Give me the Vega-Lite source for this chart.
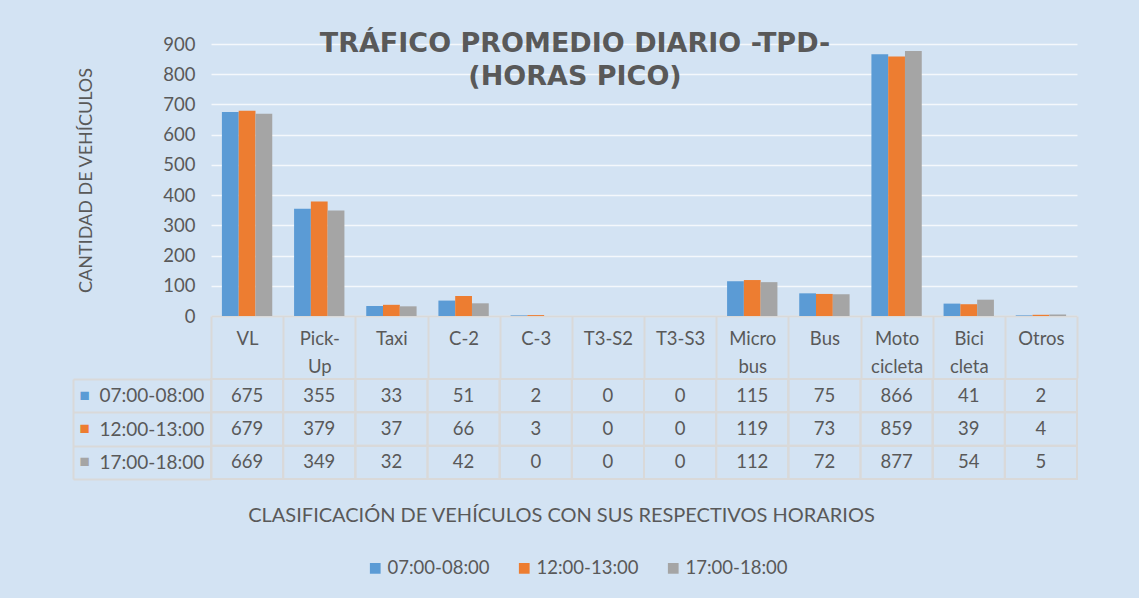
{
  "$schema": "https://vega.github.io/schema/vega-lite/v6.json",
  "background": "#d3e3f3",
  "padding": {"left": 71, "top": 30, "right": 60, "bottom": 20},
  "config": {
    "font": "Lato",
    "view": {"stroke": null},
    "axis": {"labelColor": "#595959", "titleColor": "#595959", "labelFont": "Lato", "titleFont": "Lato", "titleFontWeight": "normal"},
    "legend": {"labelFont": "Lato", "labelColor": "#595959"}
  },
  "title": {
    "text": ["TRÁFICO PROMEDIO DIARIO -TPD-", "(HORAS PICO)"],
    "font": "DejaVu Sans", "fontSize": 27, "fontWeight": "bold", "color": "#595959",
    "lineHeight": 33, "anchor": "middle", "offset": -56
  },
  "data": {"values": [
    {"categoria": "VL", "horario": "07:00-08:00", "valor": 675},
    {"categoria": "VL", "horario": "12:00-13:00", "valor": 679},
    {"categoria": "VL", "horario": "17:00-18:00", "valor": 669},
    {"categoria": "Pick-Up", "horario": "07:00-08:00", "valor": 355},
    {"categoria": "Pick-Up", "horario": "12:00-13:00", "valor": 379},
    {"categoria": "Pick-Up", "horario": "17:00-18:00", "valor": 349},
    {"categoria": "Taxi", "horario": "07:00-08:00", "valor": 33},
    {"categoria": "Taxi", "horario": "12:00-13:00", "valor": 37},
    {"categoria": "Taxi", "horario": "17:00-18:00", "valor": 32},
    {"categoria": "C-2", "horario": "07:00-08:00", "valor": 51},
    {"categoria": "C-2", "horario": "12:00-13:00", "valor": 66},
    {"categoria": "C-2", "horario": "17:00-18:00", "valor": 42},
    {"categoria": "C-3", "horario": "07:00-08:00", "valor": 2},
    {"categoria": "C-3", "horario": "12:00-13:00", "valor": 3},
    {"categoria": "C-3", "horario": "17:00-18:00", "valor": 0},
    {"categoria": "T3-S2", "horario": "07:00-08:00", "valor": 0},
    {"categoria": "T3-S2", "horario": "12:00-13:00", "valor": 0},
    {"categoria": "T3-S2", "horario": "17:00-18:00", "valor": 0},
    {"categoria": "T3-S3", "horario": "07:00-08:00", "valor": 0},
    {"categoria": "T3-S3", "horario": "12:00-13:00", "valor": 0},
    {"categoria": "T3-S3", "horario": "17:00-18:00", "valor": 0},
    {"categoria": "Microbus", "horario": "07:00-08:00", "valor": 115},
    {"categoria": "Microbus", "horario": "12:00-13:00", "valor": 119},
    {"categoria": "Microbus", "horario": "17:00-18:00", "valor": 112},
    {"categoria": "Bus", "horario": "07:00-08:00", "valor": 75},
    {"categoria": "Bus", "horario": "12:00-13:00", "valor": 73},
    {"categoria": "Bus", "horario": "17:00-18:00", "valor": 72},
    {"categoria": "Motocicleta", "horario": "07:00-08:00", "valor": 866},
    {"categoria": "Motocicleta", "horario": "12:00-13:00", "valor": 859},
    {"categoria": "Motocicleta", "horario": "17:00-18:00", "valor": 877},
    {"categoria": "Bicicleta", "horario": "07:00-08:00", "valor": 41},
    {"categoria": "Bicicleta", "horario": "12:00-13:00", "valor": 39},
    {"categoria": "Bicicleta", "horario": "17:00-18:00", "valor": 54},
    {"categoria": "Otros", "horario": "07:00-08:00", "valor": 2},
    {"categoria": "Otros", "horario": "12:00-13:00", "valor": 4},
    {"categoria": "Otros", "horario": "17:00-18:00", "valor": 5}
  ]},
  "spacing": 63,
  "bounds": "flush",
  "resolve": {"scale": {"x": "independent", "y": "independent"}, "legend": {"color": "independent"}},
  "vconcat": [
    {
      "width": 866,
      "height": 272,
      "mark": {"type": "bar"},
      "encoding": {
        "x": {
          "field": "categoria", "type": "nominal",
          "sort": ["VL", "Pick-Up", "Taxi", "C-2", "C-3", "T3-S2", "T3-S3", "Microbus", "Bus", "Motocicleta", "Bicicleta", "Otros"],
          "scale": {"paddingInner": 0, "paddingOuter": 0},
          "axis": {
            "title": null, "labelAngle": 0, "grid": false,
            "labelExpr": "datum.label == 'Pick-Up' ? ['Pick-', 'Up'] : datum.label == 'Microbus' ? ['Micro', 'bus'] : datum.label == 'Motocicleta' ? ['Moto', 'cicleta'] : datum.label == 'Bicicleta' ? ['Bici', 'cleta'] : datum.label",
            "labelFontSize": 18.5, "labelLineHeight": 28, "labelPadding": -49,
            "tickBand": "extent", "tickSize": 62, "tickColor": "#d9d9d9", "tickWidth": 2,
            "domainColor": "#d9d9d9", "domainWidth": 2
          }
        },
        "xOffset": {
          "field": "horario", "type": "nominal",
          "sort": ["07:00-08:00", "12:00-13:00", "17:00-18:00"],
          "scale": {"paddingInner": 0, "paddingOuter": 0.65}
        },
        "y": {
          "field": "valor", "type": "quantitative",
          "scale": {"domain": [0, 900]},
          "axis": {
            "values": [0, 100, 200, 300, 400, 500, 600, 700, 800, 900],
            "title": "CANTIDAD DE VEHÍCULOS", "titleFontSize": 18, "titlePadding": 67,
            "labelFontSize": 18.5, "labelPadding": 16, "ticks": false, "domain": false,
            "gridColor": "#ffffff", "gridOpacity": 0.75, "gridWidth": 1.5
          }
        },
        "color": {
          "field": "horario", "type": "nominal",
          "sort": ["07:00-08:00", "12:00-13:00", "17:00-18:00"],
          "scale": {"range": ["#5b9bd5", "#ed7d31", "#a5a5a5"]},
          "legend": {
            "title": null, "orient": "none", "direction": "horizontal",
            "legendX": 155, "legendY": 515, "padding": 0,
            "symbolType": "square", "symbolSize": 115, "symbolStrokeWidth": 0,
            "labelFontSize": 18.5, "labelOffset": 3, "columnPadding": 25
          }
        }
      }
    },
    {
      "width": 866,
      "height": 100,
      "view": {"stroke": "#d9d9d9", "strokeWidth": 2},
      "encoding": {
        "x": {
          "field": "categoria", "type": "nominal",
          "sort": ["VL", "Pick-Up", "Taxi", "C-2", "C-3", "T3-S2", "T3-S3", "Microbus", "Bus", "Motocicleta", "Bicicleta", "Otros"],
          "scale": {"paddingInner": 0, "paddingOuter": 0},
          "axis": {
            "title": "CLASIFICACIÓN DE VEHÍCULOS CON SUS RESPECTIVOS HORARIOS",
            "labels": false, "ticks": false, "domain": false, "grid": false,
            "titleFontSize": 20, "titlePadding": 26, "titleX": 350
          }
        },
        "y": {
          "field": "horario", "type": "nominal",
          "sort": ["07:00-08:00", "12:00-13:00", "17:00-18:00"],
          "scale": {"paddingInner": 0, "paddingOuter": 0}
        }
      },
      "layer": [
        {
          "mark": {"type": "rect", "filled": false, "color": "#d9d9d9", "strokeWidth": 2},
          "encoding": {
            "y": {
              "field": "horario", "type": "nominal",
              "sort": ["07:00-08:00", "12:00-13:00", "17:00-18:00"],
              "axis": {
                "title": null, "orient": "left", "offset": 138, "grid": false, "ticks": false,
                "domainColor": "#d9d9d9", "domainWidth": 2,
                "labelExpr": "'■'", "labelAlign": "left", "labelPadding": -6, "labelFontSize": 17,
                "labelColor": {"condition": [{"test": "datum.value === '07:00-08:00'", "value": "#5b9bd5"}, {"test": "datum.value === '12:00-13:00'", "value": "#ed7d31"}], "value": "#a5a5a5"}
              }
            }
          }
        },
        {
          "mark": {"type": "text", "fontSize": 18.5, "color": "#595959", "font": "Lato"},
          "encoding": {
            "text": {"field": "valor", "type": "quantitative"},
            "y": {
              "field": "horario", "type": "nominal",
              "sort": ["07:00-08:00", "12:00-13:00", "17:00-18:00"],
              "axis": {
                "title": null, "orient": "left", "grid": false,
                "tickBand": "extent", "tickSize": 138, "tickColor": "#d9d9d9", "tickWidth": 2,
                "domainColor": "#d9d9d9", "domainWidth": 2,
                "labelAlign": "left", "labelPadding": -26, "labelFontSize": 19
              }
            }
          }
        }
      ],
      "resolve": {"axis": {"y": "independent"}}
    }
  ]
}
